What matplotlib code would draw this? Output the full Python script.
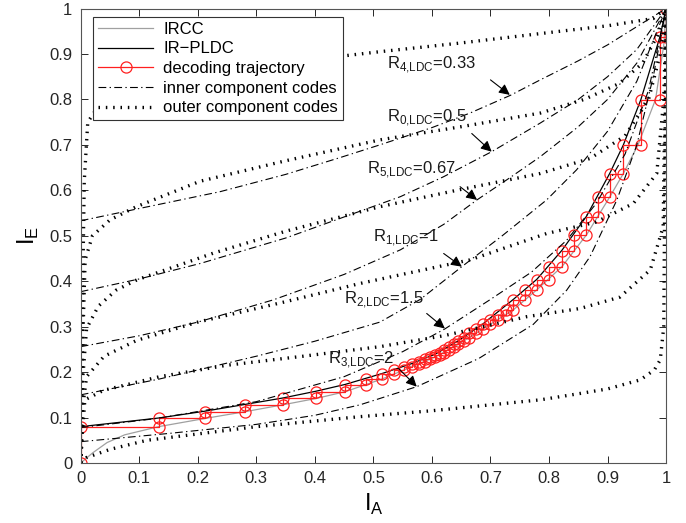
import matplotlib
matplotlib.use("Agg")
import matplotlib.pyplot as plt
from matplotlib.ticker import FuncFormatter, MultipleLocator

plt.rcParams["font.family"] = ["Liberation Sans", "DejaVu Sans"]

# --- decoding trajectory (staircase corners) ---
step_x = [0.133, 0.212, 0.281, 0.345, 0.402, 0.452, 0.487, 0.515, 0.535, 0.552,
          0.566, 0.578, 0.588, 0.597, 0.605, 0.613, 0.621, 0.629, 0.637, 0.645,
          0.654, 0.664, 0.675, 0.687, 0.700, 0.713, 0.726, 0.739, 0.759, 0.779,
          0.800, 0.822, 0.842, 0.864, 0.884, 0.904, 0.927, 0.957, 0.990, 1.000]
step_y = [0.080, 0.098, 0.113, 0.128, 0.142, 0.157, 0.172, 0.185, 0.196, 0.205,
          0.212, 0.218, 0.223, 0.228, 0.233, 0.238, 0.243, 0.249, 0.255, 0.261,
          0.268, 0.276, 0.285, 0.295, 0.305, 0.315, 0.326, 0.337, 0.359, 0.381,
          0.403, 0.432, 0.467, 0.502, 0.542, 0.586, 0.637, 0.700, 0.799, 0.938, 1.000]

# --- IR-PLDC (black) and IRCC (grey) ---
pldc_x = [0, 0.133, 0.212, 0.281, 0.345, 0.402, 0.452, 0.515, 0.566, 0.605, 0.645,
          0.687, 0.739, 0.779, 0.822, 0.864, 0.904, 0.927, 0.957, 0.99, 1.0]
pldc_y = [0.080, 0.099, 0.114, 0.129, 0.143, 0.158, 0.173, 0.197, 0.219, 0.239, 0.269,
          0.306, 0.360, 0.404, 0.468, 0.543, 0.638, 0.700, 0.800, 0.940, 1.0]
ircc_x = [0, 0.02, 0.045, 0.075, 0.133, 0.212, 0.281, 0.345, 0.402, 0.452, 0.515, 0.566,
          0.605, 0.645, 0.687, 0.739, 0.779, 0.822, 0.864, 0.904, 0.927, 0.952, 0.982,
          0.996, 1.0]
ircc_y = [0, 0.022, 0.045, 0.062, 0.080, 0.098, 0.113, 0.128, 0.142, 0.157, 0.185, 0.212,
          0.233, 0.261, 0.295, 0.337, 0.381, 0.432, 0.502, 0.586, 0.637, 0.700, 0.800,
          0.920, 1.0]

# --- inner component codes (dash-dot) ---
inner = {
    "R4": ([0, 0.1, 0.238, 0.35, 0.443, 0.511, 0.6, 0.665, 0.734, 0.785, 0.85, 0.9, 0.956, 1.0],
           [0.533, 0.56, 0.597, 0.635, 0.672, 0.70, 0.738, 0.77, 0.809, 0.843, 0.885, 0.92, 0.965, 1.0]),
    "R0": ([0, 0.1, 0.204, 0.35, 0.546, 0.62, 0.702, 0.785, 0.85, 0.9, 0.95, 1.0],
           [0.377, 0.405, 0.439, 0.495, 0.586, 0.63, 0.685, 0.748, 0.80, 0.85, 0.91, 1.0]),
    "R5": ([0, 0.1, 0.2, 0.329, 0.45, 0.546, 0.62, 0.677, 0.73, 0.785, 0.85, 0.9, 0.95, 1.0],
           [0.256, 0.28, 0.31, 0.359, 0.415, 0.469, 0.525, 0.579, 0.625, 0.674, 0.74, 0.80, 0.88, 1.0]),
    "R1": ([0, 0.135, 0.3, 0.4, 0.511, 0.58, 0.651, 0.72, 0.796, 0.847, 0.9, 0.95, 1.0],
           [0.150, 0.185, 0.235, 0.268, 0.31, 0.36, 0.432, 0.50, 0.579, 0.645, 0.73, 0.84, 1.0]),
    "R2": ([0, 0.13, 0.3, 0.45, 0.55, 0.622, 0.7, 0.77, 0.83, 0.88, 0.93, 0.97, 1.0],
           [0.078, 0.098, 0.135, 0.19, 0.245, 0.295, 0.36, 0.42, 0.49, 0.57, 0.68, 0.82, 1.0]),
    "R3": ([0, 0.15, 0.3, 0.4, 0.477, 0.574, 0.68, 0.773, 0.83, 0.87, 0.916, 0.95, 0.978, 1.0],
           [0.047, 0.065, 0.085, 0.105, 0.128, 0.168, 0.23, 0.305, 0.38, 0.454, 0.579, 0.70, 0.85, 1.0]),
}

# --- outer component codes (dotted) ---
outer = [
    ([0, 0.003, 0.006, 0.012, 0.03, 0.06, 0.1, 0.2, 0.3, 0.437, 0.511, 0.648, 0.819, 0.9, 0.978, 1.0],
     [0, 0.35, 0.62, 0.75, 0.785, 0.81, 0.825, 0.85, 0.868, 0.894, 0.905, 0.924, 0.95, 0.962, 0.978, 1.0]),
    ([0, 0.003, 0.0075, 0.02, 0.05, 0.095, 0.204, 0.35, 0.511, 0.65, 0.785, 0.86, 0.92, 0.96, 0.985, 1.0],
     [0, 0.25, 0.447, 0.5, 0.535, 0.564, 0.62, 0.665, 0.711, 0.74, 0.77, 0.80, 0.835, 0.88, 0.94, 1.0]),
    ([0, 0.003, 0.01, 0.03, 0.06, 0.096, 0.227, 0.35, 0.511, 0.642, 0.785, 0.87, 0.93, 0.97, 0.99, 1.0],
     [0, 0.18, 0.296, 0.345, 0.38, 0.403, 0.462, 0.51, 0.564, 0.60, 0.637, 0.67, 0.72, 0.80, 0.90, 1.0]),
    ([0, 0.003, 0.01, 0.04, 0.096, 0.2, 0.35, 0.477, 0.665, 0.796, 0.88, 0.944, 0.984, 0.996, 1.0],
     [0, 0.12, 0.19, 0.235, 0.27, 0.31, 0.355, 0.395, 0.447, 0.505, 0.53, 0.571, 0.637, 0.80, 1.0]),
    ([0, 0.003, 0.007, 0.039, 0.135, 0.249, 0.38, 0.511, 0.62, 0.762, 0.853, 0.921, 0.973, 0.995, 1.0],
     [0, 0.07, 0.139, 0.16, 0.19, 0.215, 0.235, 0.256, 0.28, 0.322, 0.34, 0.365, 0.425, 0.52, 1.0]),
    ([0, 0.01, 0.05, 0.113, 0.3, 0.477, 0.6, 0.785, 0.853, 0.9, 0.956, 0.98, 0.99, 0.996, 1.0],
     [0, 0.012, 0.03, 0.05, 0.08, 0.102, 0.115, 0.139, 0.153, 0.163, 0.183, 0.205, 0.227, 0.30, 1.0]),
]

# labels: (text, text x, text y, arrow tail, arrow tip)
labels = [
    (r"R$_{\mathregular{4{,}LDC}}$=0.33", 0.523, 0.876, (0.70, 0.843), (0.733, 0.81)),
    (r"R$_{\mathregular{0{,}LDC}}$=0.5", 0.523, 0.759, (0.668, 0.725), (0.702, 0.685)),
    (r"R$_{\mathregular{5{,}LDC}}$=0.67", 0.489, 0.645, (0.648, 0.608), (0.677, 0.579)),
    (r"R$_{\mathregular{1{,}LDC}}$=1", 0.50, 0.495, (0.62, 0.461), (0.651, 0.432)),
    (r"R$_{\mathregular{2{,}LDC}}$=1.5", 0.449, 0.359, (0.591, 0.329), (0.622, 0.296)),
    (r"R$_{\mathregular{3{,}LDC}}$=2", 0.423, 0.227, (0.543, 0.208), (0.574, 0.168)),
]

fig = plt.figure(figsize=(6.86, 5.23), dpi=100)
ax = fig.add_axes([0.1177, 0.1147, 0.8533, 0.869])

dashdot = (0, (7, 3, 1.2, 3))
dotted = (0, (0.45, 1.75))

ax.plot(ircc_x, ircc_y, color="#a0a0a0", lw=0.9, label="IRCC")
ax.plot(pldc_x, pldc_y, color="black", lw=0.9, label="IR\u2212PLDC")

traj_x = [0, 0]
traj_y = [0, step_y[0]]
for k, xk in enumerate(step_x):
    traj_x += [xk, xk]
    traj_y += [step_y[k], step_y[k + 1]]
ax.plot(traj_x, traj_y, color="#ff2020", lw=0.9, marker="o", ms=8, mfc="none",
        mew=0.9, label="decoding trajectory")

for i, (xs, ys) in enumerate(inner.values()):
    ax.plot(xs, ys, color="black", lw=0.8, ls=dashdot,
            label="inner component codes" if i == 0 else None)
for i, (xs, ys) in enumerate(outer):
    ax.plot(xs, ys, color="black", lw=2.4, ls=dotted, dash_capstyle="butt",
            label="outer component codes" if i == 0 else None)

for txt, tx, ty, tail, tip in labels:
    ax.text(tx, ty, txt, fontsize=12, va="center", ha="left", color="#1a1a1a")
    ax.annotate("", xy=tip, xytext=tail,
                arrowprops=dict(arrowstyle="-|>", color="black", lw=0.8,
                                mutation_scale=16, shrinkA=0, shrinkB=0))

ax.set_xlim(0, 1)
ax.set_ylim(0, 1)
ax.xaxis.set_major_locator(MultipleLocator(0.1))
ax.yaxis.set_major_locator(MultipleLocator(0.1))
fmt = FuncFormatter(lambda v, _: "%g" % round(v, 2))
ax.xaxis.set_major_formatter(fmt)
ax.yaxis.set_major_formatter(fmt)
ax.tick_params(direction="in", top=True, right=True, length=5, width=0.7,
               labelsize=12, colors="#262626", pad=6)
for s in ax.spines.values():
    s.set_color("#555555")
    s.set_linewidth(0.8)

ax.set_xlabel(r"I$_\mathregular{A}$", fontsize=17, labelpad=4)
ax.set_ylabel(r"I$_\mathregular{E}$", fontsize=17, labelpad=6)

leg = ax.legend(loc="upper left", bbox_to_anchor=(0.0215, 0.982), borderaxespad=0,
                fontsize=12, fancybox=False, framealpha=1, edgecolor="#333333",
                handlelength=3.3, labelspacing=0.28, borderpad=0.3, handletextpad=0.6)
leg.get_frame().set_linewidth(0.8)

fig.savefig("out.png", dpi=100)
